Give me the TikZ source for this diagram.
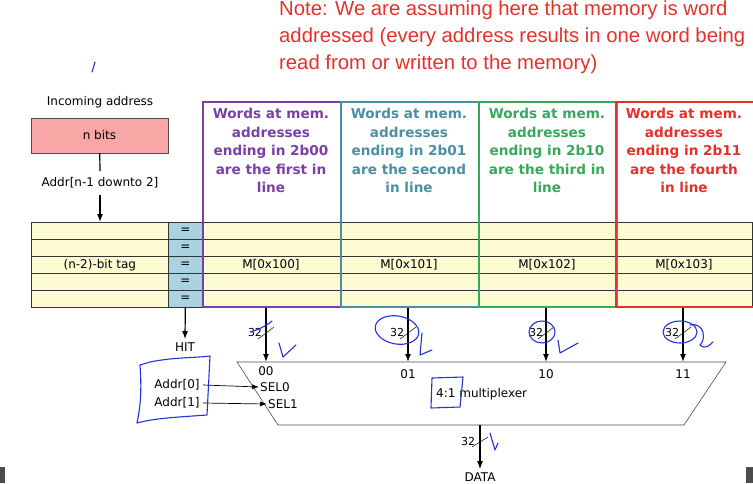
\documentclass[tikz,border=0pt]{standalone}
\usepackage{fontspec}
\setmainfont{DejaVu Sans}
\newfontfamily\notefont{Liberation Sans}
\usetikzlibrary{arrows.meta,calc}
\definecolor{tagyellow}{HTML}{FDFBD2}
\definecolor{cmpblue}{HTML}{A9D3E0}
\definecolor{pinkbox}{HTML}{F8A6A6}
\definecolor{colA}{HTML}{7B3FA7}
\definecolor{colB}{HTML}{4A8FA3}
\definecolor{colC}{HTML}{37A85C}
\definecolor{colD}{HTML}{E6302A}
\definecolor{notered}{HTML}{E5312C}
\definecolor{inkblue}{HTML}{2233DD}

\begin{document}
\begin{tikzpicture}[x=1pt,y=-1pt,
  lbl/.style={font=\fontsize{12}{14}\selectfont},
  bus/.style={font=\fontsize{11}{13}\selectfont},
  cell/.style={draw=black!80,fill=tagyellow,line width=0.6pt,minimum height=17pt,inner sep=0pt,anchor=north west},
  eqcell/.style={cell,fill=cmpblue,minimum width=34pt,font=\fontsize{12}{12}\selectfont},
  colbox/.style={line width=1.8pt,minimum width=138pt,minimum height=205pt,anchor=north west},
  head/.style={font=\fontsize{13.6}{18.5}\selectfont\bfseries,align=center,anchor=north},
  wire/.style={-{Latex[length=8pt,width=6pt]},line width=1.2pt},
  sel/.style={-{Latex[length=7pt,width=5pt]},line width=0.7pt},
  ink/.style={draw=inkblue,line width=1.1pt,line cap=round,line join=round}]

\useasboundingbox (0,0) rectangle (753,483);

% handwritten note
\node[anchor=north west,text=notered,align=left,inner sep=0pt,
  font=\notefont\fontsize{20.3}{27}\selectfont] (note) at (279,1)
  {Note: We are assuming here that memory is word\\
   addressed (every address results in one word being\\
   read from or written to the memory)};

% incoming address
\node[lbl] (incoming) at (100,102) {Incoming address};
\node[draw=black!70,fill=pinkbox,minimum width=137pt,minimum height=35pt,inner sep=0pt,lbl] (nbits) at (99.5,135.5) {n bits};
\node[lbl] (addr) at (100,183) {Addr[n-1 downto 2]};

% tag rows and comparators
\foreach \i in {0,...,4}{
  \node[cell,minimum width=137pt] (tag\i) at (31,222+17*\i) {};
  \node[eqcell] (eq\i) at (168,222+17*\i) {=};
  \node[cell,minimum width=550pt] (row\i) at (202,222+17*\i) {};
}
\node[lbl] (tagtext) at (tag2) {(n-2)-bit tag};

% the four words of a line
\node[colbox,draw=colA] (colA) at (202,101) {};
\node[colbox,draw=colB] (colB) at (340,101) {};
\node[colbox,draw=colC] (colC) at (478,101) {};
\node[colbox,draw=colD] (colD) at (615,101) {};

\node[head,text=colA] (headA) at (271,105) {Words at mem.\\addresses\\ending in 2b00\\are the first in\\line};
\node[head,text=colB] (headB) at (409,105) {Words at mem.\\addresses\\ending in 2b01\\are the second\\in line};
\node[head,text=colC] (headC) at (547,105) {Words at mem.\\addresses\\ending in 2b10\\are the third in\\line};
\node[head,text=colD] (headD) at (684,105) {Words at mem.\\addresses\\ending in 2b11\\are the fourth\\in line};

\node[lbl] (wordA) at (271,264.5) {M[0x100]};
\node[lbl] (wordB) at (409,264.5) {M[0x101]};
\node[lbl] (wordC) at (547,264.5) {M[0x102]};
\node[lbl] (wordD) at (684,264.5) {M[0x103]};

\draw[line width=1.2pt] (nbits) -- (100,171);
\draw[wire] (addr) ++(0,12) -- (tag0.north -| addr);

% hit
\node[lbl] (hit) at (185,347) {HIT};
\draw[wire] (eq4.south) -- (hit.north);

% multiplexer
\draw[line width=0.6pt,draw=black!70] (237,362) -- (726,362) -- (684,425) -- (278,425) -- cycle;
\coordinate (inA) at (266,362);
\coordinate (inB) at (408,362);
\coordinate (inC) at (546,362);
\coordinate (inD) at (683,362);
\coordinate (out) at (480,425);
\node[lbl] (inlA) at (266,371) {00};
\node[lbl] (inlB) at (408,374) {01};
\node[lbl] (inlC) at (546,374) {10};
\node[lbl] (inlD) at (683,374) {11};
\node[lbl,anchor=west,inner sep=1pt] (sel0) at (259,387) {SEL0};
\node[lbl,anchor=west,inner sep=1pt] (sel1) at (267,404) {SEL1};
\node[lbl,anchor=west,inner sep=0pt] (muxtext) at (436,394) {4:1 multiplexer};
\node[lbl] (a0) at (177,385) {Addr[0]};
\node[lbl] (a1) at (177,403) {Addr[1]};
\draw[sel] (a0.east) -- (sel0.west);
\draw[sel] (a1.east) -- (sel1.west);

\foreach \c/\n in {colA/inA,colB/inB,colC/inC,colD/inD}{
  \draw[wire] (\c.south -| \n) -- (\n);
  \draw[line width=0.5pt] ($(\n)+(-8,-23)$) -- ($(\n)+(8,-35)$);
}
\node[bus] (wA) at (255,332) {32};
\node[bus] (wB) at (397,332) {32};
\node[bus] (wC) at (536,332) {32};
\node[bus] (wD) at (672,332) {32};

\node[lbl] (data) at (480,477) {DATA};
\draw[wire] (out) -- (data.north);
\draw[line width=0.5pt] (472,447) -- (488,437);
\node[bus] (wOut) at (468,441) {32};

% pen marks
\draw[ink] (92,72) -- (95,62);
\draw[ink] (150,362) .. controls (175,357) and (195,358) .. (210,356) -- (207,415) .. controls (180,417) and (155,418) .. (137,423)
  .. controls (142,400) and (141,380) .. (140,365) -- (150,362);
\draw[ink] (432,378) -- (463,377) -- (460,407) -- (431,408) -- cycle;
\draw[ink] (250,332) .. controls (258,330) and (266,326) .. (272,321);
\draw[ink] (279,343) -- (283,357) -- (296,345);
\draw[ink,rotate around={-10:(397,330)}] (397,330) ellipse (22pt and 14pt);
\draw[ink] (422,333) -- (420,355) -- (432,350);
\draw[ink] (542,332) ellipse (13pt and 11pt);
\draw[ink] (558,340) -- (560,353) -- (578,343);
\draw[ink] (680,332) ellipse (17pt and 11pt);
\draw[ink] (690,325) .. controls (705,322) and (706,340) .. (700,345) .. controls (705,350) and (710,345) .. (713,342);
\draw[ink] (490,433) -- (495,450) -- (498,443);

% screen edges
\fill[black!70] (0,467) rectangle (5,483);
\fill[black!70] (746,467) rectangle (753,483);
\end{tikzpicture}
\end{document}
